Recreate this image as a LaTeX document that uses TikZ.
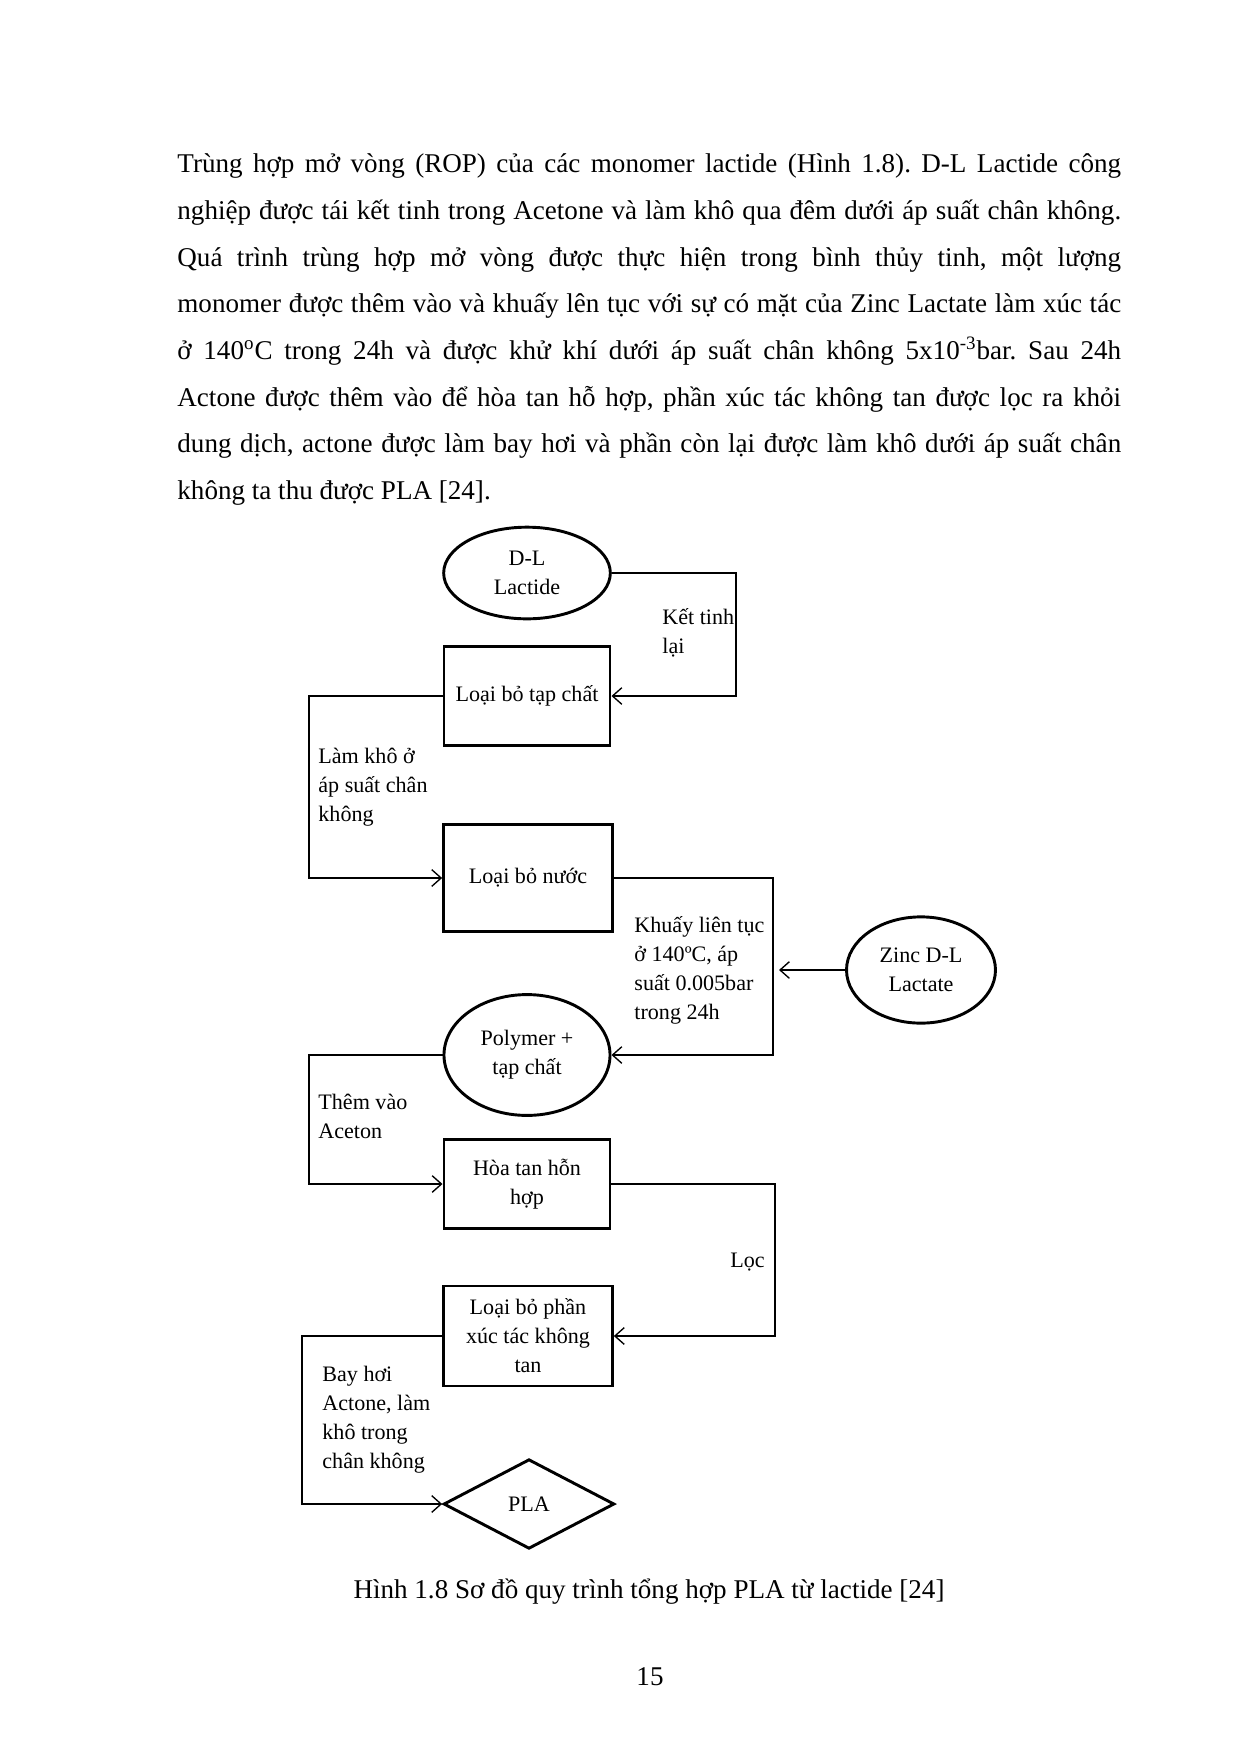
\documentclass[tikz,border=0pt]{standalone}
\usepackage{fontspec}
\setmainfont{Liberation Serif}
\usetikzlibrary{shapes.geometric,arrows.meta}
\frenchspacing
\begin{document}
\begin{tikzpicture}[x=0.48pt,y=-0.48pt,
  body/.style={anchor=base west,inner sep=0pt,font=\fontsize{13}{16}\selectfont},
  bodyc/.style={anchor=base,inner sep=0pt,font=\fontsize{13}{16}\selectfont},
  lbl/.style={anchor=west,inner sep=0pt,align=left,font=\fontsize{10.6}{13.9}\selectfont},
  boxn/.style={draw,line width=1.4pt,rectangle,align=center,inner sep=0pt,font=\fontsize{10.6}{13.9}\selectfont},
  elln/.style={draw,line width=1.4pt,ellipse,align=center,inner sep=0pt,font=\fontsize{10.6}{13.9}\selectfont},
  dian/.style={draw,line width=1.4pt,diamond,align=center,inner sep=0pt,font=\fontsize{10.6}{13.9}\selectfont},
  conn/.style={line width=0.65pt,-{Straight Barb[length=4.5pt,width=8pt]}},
  plainconn/.style={line width=0.65pt}
]
\fill[white] (0,0) rectangle (1240,1754);
\useasboundingbox (0,0) rectangle (1240,1754);

% paragraph
\node[body] (p1) at (177,172) {\makebox[453pt][s]{Trùng hợp mở vòng (ROP) của các monomer lactide (Hình 1.8). D-L Lactide công}};
\node[body] (p2) at (177,219) {\makebox[453pt][s]{nghiệp được tái kết tinh trong Acetone và làm khô qua đêm dưới áp suất chân không.}};
\node[body] (p3) at (177,266) {\makebox[453pt][s]{Quá trình trùng hợp mở vòng được thực hiện trong bình thủy tinh, một lượng}};
\node[body] (p4) at (177,312) {\makebox[453pt][s]{monomer được thêm vào và khuấy lên tục với sự có mặt của Zinc Lactate làm xúc tác}};
\node[body] (p5) at (177,359) {\makebox[453pt][s]{ở 140\textsuperscript{o}C trong 24h và được khử khí dưới áp suất chân không 5x10\textsuperscript{-3}bar. Sau 24h}};
\node[body] (p6) at (177,406) {\makebox[453pt][s]{Actone được thêm vào để hòa tan hỗ hợp, phần xúc tác không tan được lọc ra khỏi}};
\node[body] (p7) at (177,452) {\makebox[453pt][s]{dung dịch, actone được làm bay hơi và phần còn lại được làm khô dưới áp suất chân}};
\node[body] (p8) at (177,499) {không ta thu được PLA [24].};

% nodes
\node[elln,minimum width=80pt,minimum height=44pt] (lact) at (527,573) {D-L\\Lactide};
\node[boxn,minimum width=79.7pt,minimum height=47.5pt] (b1) at (527,696) {Loại bỏ tạp chất};
\node[boxn,minimum width=81pt,minimum height=51pt] (b2) at (528,878) {Loại bỏ nước};
\node[elln,minimum width=71.5pt,minimum height=51pt] (zinc) at (921,970) {Zinc D-L\\Lactate};
\node[elln,minimum width=79.7pt,minimum height=58pt] (poly) at (527,1055) {Polymer +\\tạp chất};
\node[boxn,minimum width=79.7pt,minimum height=43pt] (b3) at (527,1184) {Hòa tan hỗn\\hợp};
\node[boxn,minimum width=81pt,minimum height=48pt] (b4) at (528,1336) {Loại bỏ phần\\xúc tác không\\tan};
\node[dian,minimum width=82pt,minimum height=43pt] (pla) at (529,1504) {PLA};

% columns
\coordinate (cA) at (736,0);
\coordinate (cB) at (309,0);
\coordinate (cC) at (773,0);
\coordinate (cD) at (779,0);
\coordinate (cE) at (775,0);
\coordinate (cF) at (302,0);

% connectors
\draw[conn] (lact.east) -- (lact.east -| cA) -- (b1.east -| cA) -- (b1.east);
\draw[conn] (b1.west) -- (b1.west -| cB) -- (b2.west -| cB) -- (b2.west);
\draw[conn] (b2.east) -- (b2.east -| cC) -- (poly.east -| cC) -- (poly.east);
\draw[conn] (zinc.west) -- (zinc.west -| cD);
\draw[conn] (poly.west) -- (poly.west -| cB) -- (b3.west -| cB) -- (b3.west);
\draw[conn] (b3.east) -- (b3.east -| cE) -- (b4.east -| cE) -- (b4.east);
\draw[conn] (b4.west) -- (b4.west -| cF) -- (pla.west -| cF) -- (pla.west);

% labels
\node[lbl] (l1) at (662,633) {Kết tinh\\lại};
\node[lbl] (l2) at (318,787) {Làm khô ở\\áp suất chân\\không};
\node[lbl] (l3) at (634,970) {Khuấy liên tục\\ở 140ºC, áp\\suất 0.005bar\\trong 24h};
\node[lbl] (l4) at (318,1116) {Thêm vào\\Aceton};
\node[lbl] (l5) at (730,1262) {Lọc};
\node[lbl] (l6) at (322,1420) {Bay hơi\\Actone, làm\\khô trong\\chân không};

% caption and page number
\node[bodyc] (cap) at (649,1598) {Hình 1.8 Sơ đồ quy trình tổng hợp PLA từ lactide [24]};
\node[bodyc] (pg) at (650,1685) {15};
\end{tikzpicture}
\end{document}
